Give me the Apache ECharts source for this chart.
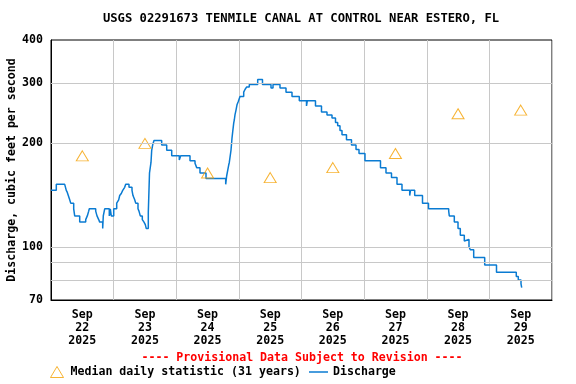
<!DOCTYPE html>
<html><head><meta charset="utf-8">
<script src="https://cdn.jsdelivr.net/npm/echarts@6/dist/echarts.min.js"></script>
<style>html,body{margin:0;padding:0;background:#fff}#c{width:576px;height:384px}</style>
</head><body><div id="c"></div>
<script>
const titleText = 'USGS 02291673 TENMILE CANAL AT CONTROL NEAR ESTERO, FL';
const noteText = '---- Provisional Data Subject to Revision ----';
const yAxisTitle = 'Discharge, cubic feet per second';
const medianName = 'Median daily statistic (31 years)';
const dischargeName = 'Discharge';
// x axis: hours since 2025-09-22 00:00
const dayLabels = ['Sep\n22\n2025','Sep\n23\n2025','Sep\n24\n2025','Sep\n25\n2025','Sep\n26\n2025','Sep\n27\n2025','Sep\n28\n2025','Sep\n29\n2025'];
const dayNoonHours = [12,36,60,84,108,132,156,180];
const medianValues = [184,200,164,159,170,187,244,250];
const yTickValues = [70,100,200,300,400];
const yGridValues = [80,90,100,200,300];
const qHours = [0,2.03,5.25,5.86,6.25,6.63,7.17,7.55,8.70,9.08,11.0,13.3,13.91,14.45,14.68,17.13,17.63,18.28,18.66,19.81,20.04,20.58,22.34,22.73,23.11,24.03,25.18,25.94,26.33,26.94,27.48,28.24,28.63,29.89,31.04,31.42,32.08,32.46,33.34,33.72,34.22,34.99,35.64,36.14,36.52,37.29,37.75,38.32,38.59,38.97,39.47,42.42,44.34,46.26,49.17,49.70,53.27,55.19,55.84,57.10,59.40,66.95,67.33,67.72,68.10,68.33,68.60,68.98,69.36,69.63,70.02,70.25,70.51,70.90,71.28,71.78,72.43,73.85,74.35,75.00,75.99,79.21,81.05,84.31,85.08,87.76,90.06,92.36,95.16,97.92,98.22,101.36,103.66,105.77,107.69,109.03,109.87,110.75,111.52,113.24,115.16,116.89,118.04,120.33,126.27,128.38,130.49,132.60,134.51,137.47,137.77,139.38,142.37,144.67,152.41,152.64,154.56,155.98,156.86,158.39,158.85,160.19,160.69,161.99,166.21,170.73,178.31,179.08,180.12,180.39,180.62];
const qValues = [146,152,150,146,144,141,137,134,129,123,118,120,123,127,129,127,123,120,118,113,123,129,123,129,123,129,134,137,141,143,146,149,152,149,146,141,137,134,129,127,123,120,118,116,113,126,164,176,191,198,204,198,191,184,179,184,178,175,170,164,158,152,161,167,173,176,182,191,207,216,229,234,242,250,259,265,274,282,287,292,297,307,297,290,297,290,282,274,266,257,266,257,247,242,237,230,225,218,212,205,198,192,187,178,170,164,159,152,146,141,146,141,134,129,127,123,118,113,108,104,105,100,98,93,88.5,84.3,82,80,78,76,76];

const FONT = 'DejaVu Sans Mono';
const FS = 11.6;
const LINE_COLOR = '#0a7bd2';
const chart = echarts.init(document.getElementById('c'), null, {renderer: 'canvas'});
chart.setOption({
  animation: false,
  backgroundColor: '#fff',
  grid: {left: 51, right: 24, top: 40, bottom: 84, show: true, borderColor: '#000', borderWidth: 1, containLabel: false, outerBoundsMode: 'none'},
  graphic: [
    {type: 'text', x: 301, y: 19, style: {text: titleText, align: 'center', verticalAlign: 'middle', font: 'bold 12.2px "' + FONT + '"', fill: '#000'}},
    {type: 'text', x: 302, y: 358, style: {text: noteText, align: 'center', verticalAlign: 'middle', font: 'bold ' + FS + 'px "' + FONT + '"', fill: '#ff0000'}}
  ],
  legend: [
    {left: 50, top: 366, itemWidth: 13, itemHeight: 11, padding: 0,
     textStyle: {fontFamily: FONT, fontWeight: 'bold', fontSize: FS, color: '#000', padding: [0, 0, 0, 2]},
     data: [{name: medianName, icon: 'triangle', itemStyle: {color: 'rgba(0,0,0,0)', borderColor: '#f5a000', borderWidth: 1}}]},
    {left: 309, top: 366, itemWidth: 19, itemHeight: 11, padding: 0,
     textStyle: {fontFamily: FONT, fontWeight: 'bold', fontSize: FS, color: '#000'},
     data: [{name: dischargeName, icon: 'path://M0,0 L19,0 L19,1.5 L0,1.5 Z', itemStyle: {color: LINE_COLOR, borderWidth: 0}}]}
  ],
  xAxis: {
    type: 'value', min: 0, max: 192, interval: 24,
    axisLine: {show: true, lineStyle: {color: '#000', width: 1}},
    axisTick: {show: false},
    splitLine: {show: true, lineStyle: {color: '#c8c8c8', width: 1}},
    axisLabel: {
      customValues: dayNoonHours,
      margin: 8, lineHeight: 13,
      fontFamily: FONT, fontWeight: 'bold', fontSize: FS, color: '#000',
      formatter: function (v) { const i = dayNoonHours.indexOf(Math.round(v)); return i >= 0 ? dayLabels[i] : ''; }
    }
  },
  yAxis: {
    type: 'log', logBase: 10, min: 70, max: 400,
    name: yAxisTitle, nameLocation: 'middle', nameGap: 33, nameRotate: 90, nameMoveOverlap: false,
    nameTextStyle: {fontFamily: FONT, fontWeight: 'bold', fontSize: FS, color: '#000'},
    axisLine: {show: true, lineStyle: {color: '#000', width: 1}},
    axisTick: {show: false},
    splitLine: {show: false},
    minorSplitLine: {show: false},
    axisLabel: {
      customValues: yTickValues, margin: 8,
      fontFamily: FONT, fontWeight: 'bold', fontSize: FS, color: '#000',
      formatter: function (v) { return String(Math.round(v)); }
    }
  },
  series: [
    {
      name: 'grid', type: 'line', data: [], z: 1, silent: true,
      markLine: {silent: true, symbol: 'none', label: {show: false}, animation: false,
        lineStyle: {color: '#c8c8c8', width: 1, type: 'solid'},
        data: yGridValues.map(v => ({yAxis: v}))}
    },
    {
      name: dischargeName, type: 'line', step: 'end', symbol: 'none', showSymbol: false, z: 3,
      lineStyle: {color: LINE_COLOR, width: 1.5}, itemStyle: {color: LINE_COLOR},
      data: qHours.map((h, i) => [h, qValues[i]])
    },
    {
      name: medianName, type: 'scatter', symbol: 'triangle', symbolSize: [12, 10], z: 4,
      itemStyle: {color: 'rgba(0,0,0,0)', borderColor: '#f5a000', borderWidth: 1},
      data: dayNoonHours.map((h, i) => [h, medianValues[i]])
    }
  ]
});
</script></body></html>
